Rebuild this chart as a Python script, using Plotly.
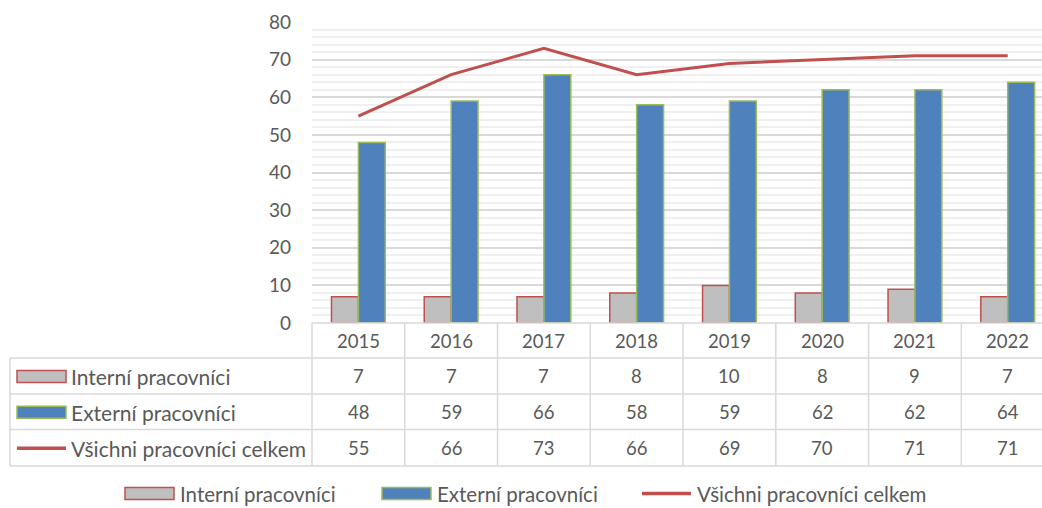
import plotly.graph_objects as go

years = ['2015', '2016', '2017', '2018', '2019', '2020', '2021', '2022']
interni = [7, 7, 7, 8, 10, 8, 9, 7]
externi = [48, 59, 66, 58, 59, 62, 62, 64]
celkem = [55, 66, 73, 66, 69, 70, 71, 71]
names = ['Interní pracovníci', 'Externí pracovníci', 'Všichni pracovníci celkem']

W, H = 1042, 508
L, R, T, B = 312, 0, 22, 185
PW, PH = W - L - R, H - T - B
CAT = 92.76
XMAX = -0.5 + PW / CAT

TXT = '#595959'
GRID = '#d9d9d9'
FONT = 'Lato'

GRAY, RED, BLUE, GREEN = '#bfbfbf', '#c0504d', '#4f81bd', '#9bbb59'


def px(x):
    return (x - L) / PW


def py(y):
    return (H - B - y) / PH


fig = go.Figure()
fig.add_trace(go.Bar(x=years, y=interni, name=names[0], marker=dict(color=GRAY, line=dict(color=RED, width=1.5)), showlegend=False))
fig.add_trace(go.Bar(x=years, y=externi, name=names[1], marker=dict(color=BLUE, line=dict(color=GREEN, width=1.5)), showlegend=False))
fig.add_trace(go.Scatter(x=years, y=celkem, name=names[2], mode='lines', line=dict(color=RED, width=3), showlegend=False))

shapes = []
ann = []

top, r1, r2, r3, bot = 323, 358, 394, 429.5, 466
left = 10
rows = [(top, r1), (r1, r2), (r2, r3), (r3, bot)]

shapes.append(dict(type='line', xref='paper', yref='paper', x0=px(L), x1=1.02, y0=py(top), y1=py(top), line=dict(color=GRID, width=1.5)))
for yy in [r1, r2, r3, bot]:
    shapes.append(dict(type='line', xref='paper', yref='paper', x0=px(left), x1=1.02, y0=py(yy), y1=py(yy), line=dict(color=GRID, width=1.5)))
for k in range(len(years) + 1):
    xb = k / (XMAX + 0.5)
    if xb <= 1.0:
        shapes.append(dict(type='line', xref='paper', yref='paper', x0=xb, x1=xb, y0=py(top), y1=py(bot), line=dict(color=GRID, width=1.5)))
shapes.append(dict(type='line', xref='paper', yref='paper', x0=px(left), x1=px(left), y0=py(r1), y1=py(bot), line=dict(color=GRID, width=1.5)))

numfnt = dict(family=FONT, size=18.5, color=TXT)
labfnt = dict(family=FONT, size=21, color=TXT)
legfnt = dict(family=FONT, size=20.5, color=TXT)

for i, yv in enumerate(years):
    ann.append(dict(x=i, xref='x', y=py((top + r1) / 2), yref='paper', text=yv, showarrow=False,
                    xanchor='center', yanchor='middle', font=numfnt))

for series, (y0, y1) in zip([interni, externi, celkem], rows[1:]):
    yc = py((y0 + y1) / 2)
    for i, v in enumerate(series):
        ann.append(dict(x=i, xref='x', y=yc, yref='paper', text=str(v), showarrow=False,
                        xanchor='center', yanchor='middle', font=numfnt))


def legend_item(kind, x0, yc, text, gap, font):
    if kind == 'line':
        shapes.append(dict(type='line', xref='paper', yref='paper', x0=px(x0), x1=px(x0 + 49), y0=py(yc), y1=py(yc), line=dict(color=RED, width=3.5)))
    else:
        fill, edge = (GRAY, RED) if kind == 'gray' else (BLUE, GREEN)
        shapes.append(dict(type='rect', xref='paper', yref='paper', x0=px(x0), x1=px(x0 + 49), y0=py(yc - 6), y1=py(yc + 6), fillcolor=fill, line=dict(color=edge, width=1.5)))
    ann.append(dict(x=px(x0 + 49 + gap), xref='paper', y=py(yc), yref='paper', text=text, xanchor='left', yanchor='middle',
                    showarrow=False, font=font))


kinds = ['gray', 'blue', 'line']
for kind, name, (y0, y1) in zip(kinds, names, rows[1:]):
    legend_item(kind, 17, (y0 + y1) / 2 + 0.5, name, 3, labfnt)

for kind, name, x0 in zip(kinds, names, [125, 382, 642]):
    legend_item(kind, x0, 493.5, name, 4, legfnt)

fig.update_layout(
    width=W, height=H,
    margin=dict(l=L, r=R, t=T, b=B, pad=0),
    paper_bgcolor='white', plot_bgcolor='white',
    barmode='group', bargap=0.42, bargroupgap=0,
    shapes=shapes, annotations=ann,
    font=dict(family=FONT, color=TXT, size=18),
    xaxis=dict(type='category', range=[-0.5, XMAX], showticklabels=False, showgrid=False, zeroline=False, showline=False, ticks=''),
    yaxis=dict(range=[0, 80], dtick=10, showgrid=True, gridcolor=GRID, gridwidth=1.5, zeroline=False, showline=False,
               tickfont=dict(family=FONT, size=19, color=TXT), ticklabelstandoff=20,
               minor=dict(dtick=2, showgrid=True, gridcolor='#f0f0f0', gridwidth=1.5)),
)

fig.write_html('out.html', config={'displayModeBar': False},
               post_script="document.body.style.margin='0';document.body.style.overflow='hidden';")
